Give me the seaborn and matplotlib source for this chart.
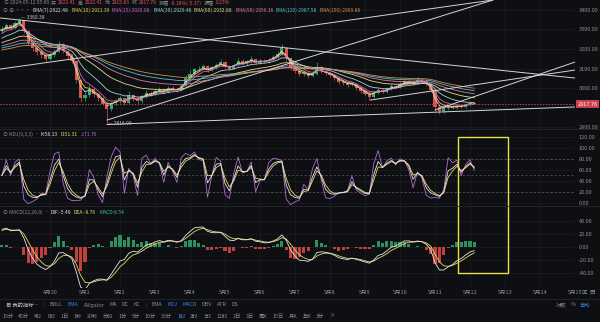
import numpy as np
import pandas as pd
import matplotlib
matplotlib.use('Agg')
import matplotlib.pyplot as plt
from matplotlib.patches import Rectangle
from matplotlib.lines import Line2D
import seaborn as sns

# ---- data (3h bars, hours from 5/1 00:00) ----
bar_hours = np.arange(-57, 268, 3)
first_open = 3290
closes = [3300, 3322, 3308, 3332, 3346, 3290, 3232, 3205, 3182, 3170,
          3150, 3168, 3186, 3225, 3190, 3165, 3140, 3040, 2948, 2962,
          2995, 2968, 2948, 2920, 2890, 2922, 2935, 2948, 2925, 2962,
          2950, 2932, 2960, 2976, 2970, 2986, 2992, 2980, 3002, 2995,
          2990, 3012, 3052, 3072, 3096, 3100, 3112, 3090, 3106, 3120,
          3132, 3110, 3100, 3116, 3140, 3126, 3136, 3150, 3130, 3140,
          3136, 3146, 3160, 3176, 3205, 3152, 3102, 3086, 3070, 3076,
          3060, 3072, 3110, 3086, 3076, 3066, 3050, 3032, 3026, 3016,
          3022, 3000, 2986, 2970, 2956, 2976, 2992, 2980, 2996, 3010,
          3006, 3022, 3036, 3030, 3026, 3040, 3035, 3020, 2990, 2902,
          2882, 2896, 2906, 2900, 2910, 2905, 2916, 2922.41, 2917.76]
highs = [3318, 3335, 3330, 3345, 3360.38, 3350, 3295, 3240, 3215, 3195,
         3178, 3180, 3198, 3240, 3232, 3195, 3172, 3145, 3048, 2985,
         3015, 3002, 2975, 2955, 2935, 2930, 2945, 2958, 2950, 2985,
         2970, 2958, 2968, 2990, 2985, 2995, 3005, 2998, 3012, 3010,
         3002, 3020, 3065, 3090, 3105, 3115, 3125, 3118, 3112, 3130,
         3150, 3138, 3118, 3125, 3155, 3148, 3145, 3162, 3155, 3150,
         3148, 3155, 3170, 3190, 3226, 3212, 3160, 3110, 3095, 3088,
         3082, 3080, 3132, 3115, 3095, 3082, 3072, 3055, 3042, 3035,
         3030, 3026, 3008, 2992, 2978, 2985, 3000, 2998, 3005, 3020,
         3018, 3030, 3048, 3045, 3038, 3055, 3050, 3042, 3028, 2995,
         2920, 2905, 2915, 2912, 2918, 2916, 2925, 2930, 2922.41]
lows = [3282, 3296, 3298, 3302, 3325, 3280, 3220, 3192, 3170, 3155,
        3138, 3142, 3160, 3185, 3180, 3150, 3128, 3025, 2930, 2935,
        2955, 2955, 2935, 2915, 2816.99, 2880, 2915, 2925, 2915, 2920,
        2935, 2920, 2925, 2950, 2960, 2962, 2978, 2972, 2975, 2985,
        2978, 2985, 3008, 3045, 3065, 3088, 3095, 3082, 3085, 3100,
        3115, 3102, 3090, 3095, 3110, 3118, 3120, 3130, 3122, 3125,
        3128, 3130, 3140, 3155, 3168, 3140, 3092, 3075, 3062, 3060,
        3050, 3055, 3066, 3078, 3068, 3058, 3042, 3020, 3015, 3005,
        3008, 2990, 2975, 2960, 2945, 2950, 2968, 2972, 2975, 2990,
        2998, 3000, 3015, 3022, 3018, 3020, 3028, 3012, 2980, 2880,
        2865, 2872, 2888, 2892, 2895, 2898, 2900, 2910, 2915.83]

ema_periods = [7, 10, 15, 30, 60, 90, 120, 150]
ema_start = [3295, 3285, 3270, 3245, 3225, 3210, 3200, 3190]   # values at left edge
ema_colors = ['#d8d8d8', '#e6cf4f', '#cf5fd0', '#9fd6d0', '#e4dc8a', '#d87aa8', '#4fc3d6', '#e08a4a']
ema_legend = ['2922.48', '2921.39', '2920.08', '2929.46', '2932.88', '2956.36', '2987.58', '2999.86']

macd_start = {'ema12': 3270, 'ema26': 3243, 'dea': 24}
last_price = 2917.76

# trendlines drawn on the chart: (hour, price) endpoints
trend_lines = [((-58.3, 3359), (336, 3051)),
               ((-58.3, 3097), (279.8, 3451)),
               ((15.1, 2836), (279.8, 3451)),
               ((15.1, 2813), (336, 2903)),
               ((195.4, 2938), (336, 3092)),
               ((240, 2887), (336, 3133))]
box_hours = (256, 290)
box_kdj_top, box_macd_bottom = 120, -40

day_hours = list(range(-24, 337, 24))
day_labels = ['4月30', '5月1', '5月2', '5月3', '5月4', '5月5', '5月6', '5月7',
              '5月8', '5月9', '5月10', '5月11', '5月12', '5月13', '5月14', '5月15']
price_ticks = [2800, 2900, 3000, 3100, 3200, 3300, 3400]
kdj_ticks = [0, 20, 40, 60, 80, 100, 120]
macd_ticks = [-40, -20, 0, 20, 40]

# ---- indicators ----
df = pd.DataFrame({'t': bar_hours, 'close': closes, 'high': highs, 'low': lows})
df['open'] = [first_open] + closes[:-1]


def seeded_ewm(s, alpha, seed):
    s2 = pd.concat([pd.Series([seed], dtype=float), pd.Series(s, dtype=float)], ignore_index=True)
    return s2.ewm(alpha=alpha, adjust=False).mean().iloc[1:].to_numpy()


def a3(span):
    # hourly EMA factor applied over a 3-hour bar
    return 1 - (1 - 2 / (span + 1)) ** 3


for p, s0 in zip(ema_periods, ema_start):
    df[f'ema{p}'] = seeded_ewm(df['close'], a3(p), s0)

low_n = df['low'].rolling(3, min_periods=1).min()
high_n = df['high'].rolling(3, min_periods=1).max()
rsv = (df['close'] - low_n) / (high_n - low_n) * 100
ak = 1 - (2 / 3) ** 3
df['K'] = seeded_ewm(rsv, ak, 50)
df['D'] = seeded_ewm(df['K'], ak, 50)
df['J'] = 3 * df['K'] - 2 * df['D']

e12 = seeded_ewm(df['close'], a3(12), macd_start['ema12'])
e26 = seeded_ewm(df['close'], a3(26), macd_start['ema26'])
df['dif'] = e12 - e26
df['dea'] = seeded_ewm(df['dif'], a3(9), macd_start['dea'])
df['hist'] = 2 * (df['dif'] - df['dea'])

# ---- style ----
W, H = 600, 322
BG = '#0e0f12'
GRID = '#1c1e23'
TXT = '#8b8e95'
UP, DOWN = '#3aa876', '#d9534f'

sns.set_theme(style='dark', rc={'figure.facecolor': BG, 'axes.facecolor': BG,
                                'savefig.facecolor': BG, 'axes.edgecolor': BG,
                                'text.color': TXT, 'xtick.color': TXT, 'ytick.color': TXT})
plt.rcParams['font.family'] = ['Noto Sans CJK SC', 'DejaVu Sans']

fig = plt.figure(figsize=(W / 100, H / 100), dpi=100)


def px_axes(top, bottom, right=575):
    return fig.add_axes([0, 1 - bottom / H, right / W, (bottom - top) / H])


ax_p = px_axes(0, 129)
ax_k = px_axes(129, 206)
ax_m = px_axes(206, 288)

for ax in (ax_p, ax_k, ax_m):
    ax.set_xlim(-58.3, 336)
    ax.set_xticks(day_hours)
    ax.grid(True, color=GRID, lw=0.5)
    ax.yaxis.tick_right()
    ax.tick_params(axis='y', labelsize=4, colors=TXT, length=0, pad=2.5)
    ax.tick_params(axis='x', labelsize=4, colors=TXT, length=0, pad=1.5)
    for sp in ax.spines.values():
        sp.set_visible(False)
ax_p.tick_params(labelbottom=False)
ax_k.tick_params(labelbottom=False)
ax_m.set_xticklabels(day_labels)

# ---- price panel ----
ax_p.set_ylim(2790, 3451)
ax_p.set_yticks(price_ticks)
ax_p.set_yticklabels(['' if v == 2900 else f'{v:.2f}' for v in price_ticks])

cols = np.where(df['close'] >= df['open'], UP, DOWN)
ax_p.vlines(df['t'], df['low'], df['high'], colors=cols, lw=0.5, zorder=2)
body = np.maximum((df['close'] - df['open']).abs(), 1.5)
ax_p.bar(df['t'], body, bottom=np.minimum(df['open'], df['close']), width=2.2,
         color=cols, linewidth=0, zorder=2)

for p, c in zip(ema_periods, ema_colors):
    sns.lineplot(data=df, x='t', y=f'ema{p}', ax=ax_p, color=c, lw=0.6, zorder=3)

for (t0, p0), (t1, p1) in trend_lines:
    ax_p.plot([t0, t1], [p0, p1], color='#d6d6d6', lw=0.7, zorder=4)

ax_p.axhline(last_price, color='#b8454d', lw=0.7, ls=(0, (1.5, 1.5)), zorder=3)
ax_p.text(1.004, last_price, f'{last_price:.2f}', transform=ax_p.get_yaxis_transform(),
          ha='left', va='center', fontsize=4, color='white', clip_on=False,
          bbox=dict(boxstyle='square,pad=0.3', fc='#c9424b', ec='none'))

ih, il = df['high'].idxmax(), df['low'].idxmin()
ax_p.text(df['t'][ih] + 1, df['high'][ih], '— ' + f"{df['high'][ih]:.2f}", fontsize=3.6,
          color='#c8c8c8', va='center', ha='left', zorder=5)
ax_p.text(df['t'][il] + 1, df['low'][il], '— ' + f"{df['low'][il]:.2f}", fontsize=3.6,
          color='#c8c8c8', va='center', ha='left', zorder=5)
ax_p.set_xlabel('')
ax_p.set_ylabel('')

# ---- KDJ panel ----
ax_k.set_ylim(-5.5, 134.5)
ax_k.set_yticks(kdj_ticks)
ax_k.set_yticklabels([f'{v:.2f}' for v in kdj_ticks])
for lv in (80, 50, 20):
    ax_k.axhline(lv, color='#5e6066', lw=0.5, ls=(0, (3, 3)))
sns.lineplot(data=df, x='t', y='J', ax=ax_k, color='#b36bd1', lw=0.6)
sns.lineplot(data=df, x='t', y='D', ax=ax_k, color='#e4dc6a', lw=0.6)
sns.lineplot(data=df, x='t', y='K', ax=ax_k, color='#e6e6e6', lw=0.6)
ax_k.set_xlabel('')
ax_k.set_ylabel('')

# ---- MACD panel ----
ax_m.set_ylim(-63, 63)
ax_m.set_yticks(macd_ticks)
ax_m.set_yticklabels([f'{v:.2f}' for v in macd_ticks])
hcols = np.where(df['hist'] >= 0, '#2f8f5e', '#c0413d')
ax_m.bar(df['t'], df['hist'], width=2.2, color=hcols, linewidth=0)
sns.lineplot(data=df, x='t', y='dea', ax=ax_m, color='#e4dc6a', lw=0.6)
sns.lineplot(data=df, x='t', y='dif', ax=ax_m, color='#e6e6e6', lw=0.6)
ax_m.set_xlabel('')
ax_m.set_ylabel('')

# yellow marker box spanning KDJ and MACD
x0, y0 = ax_k.transData.transform((box_hours[0], box_kdj_top))
x1, y1 = ax_m.transData.transform((box_hours[1], box_macd_bottom))
(fx0, fy0), (fx1, fy1) = fig.transFigure.inverted().transform([(x0, y0), (x1, y1)])
fig.add_artist(Rectangle((fx0, fy1), fx1 - fx0, fy0 - fy1, transform=fig.transFigure,
                         fill=False, ec='#e8e04a', lw=1.0))

# panel separators
for yp in (129, 206, 299):
    fig.add_artist(Line2D([0, 1], [1 - yp / H] * 2, color='#24262b', lw=0.6))

# ---- text rows ----
renderer = fig.canvas.get_renderer()


def put_row(x_px, y_px, parts, size=4.0, gap=3.0):
    x = x_px
    for s, c in parts:
        t = fig.text(x / W, 1 - y_px / H, s, color=c, fontsize=size, va='center', ha='left')
        x += t.get_window_extent(renderer=renderer).width + gap


RED = '#e0575f'
put_row(3, 3, [('⊙', TXT), ('2024-05-12 05:00', TXT), ('开', TXT), ('2922.41', RED),
               ('高', TXT), ('2922.41', RED), ('低', TXT), ('2915.83', RED),
               ('收', TXT), ('2917.76', RED), ('涨幅', TXT), ('-0.18%(-5.37)', RED),
               ('振幅', TXT), ('0.23%', RED)], size=3.6, gap=2.0)
put_row(3, 10, [('⊙ ⊘ ···', TXT)] +
        [(f'EMA({p}):{v}', c) for p, v, c in zip(ema_periods, ema_legend, ema_colors)],
        size=3.6, gap=2.5)
put_row(3, 134, [('⊙ KDJ(9,3,3)', TXT), ('-', TXT), ('K:58.13', '#e6e6e6'),
                 ('D:51.31', '#e4dc6a'), ('J:71.76', '#b36bd1')], size=3.6, gap=3)
put_row(3, 212, [('⊙ MACD(12,26,9)', TXT), ('-', TXT), ('DIF:-5.49', '#e6e6e6'),
                 ('DEA:-9.76', '#e4dc6a'), ('MACD:8.54', '#3fbf7f')], size=3.6, gap=3)

BLUE = '#3b82f0'
put_row(6, 305, [('目 我的指标…', '#c8c8c8'), ('|', '#44464c'), ('BOLL', TXT), ('EMA', BLUE),
                 ('Alligator', TXT), ('MA', TXT), ('DC', TXT), ('KC', TXT), ('|', '#44464c'),
                 ('EMA', TXT), ('KDJ', BLUE), ('MACD', BLUE), ('OBV', TXT), ('ATR', TXT),
                 ('DS', TXT)], size=3.8, gap=5)
periods = ['15分', '45分', '4时', '6时', '1日', '1秒', '20秒', '分时', '1分', '5分', '10分',
           '30分', '1时', '2时', '3时', '12时', '2日', '3日', '周K', '15日', '月K', '年K', '3分', '×']
put_row(2, 316, [(s, BLUE if s == '1时' else TXT) for s in periods], size=3.8, gap=5.0)
put_row(556, 305, [('对数', TXT), ('%', TXT), ('自动', BLUE)], size=3.8, gap=4)
put_row(581, 293, [('▣', TXT), ('▤', TXT)], size=4, gap=3)

fig.savefig('out.png', dpi=100, facecolor=BG)
